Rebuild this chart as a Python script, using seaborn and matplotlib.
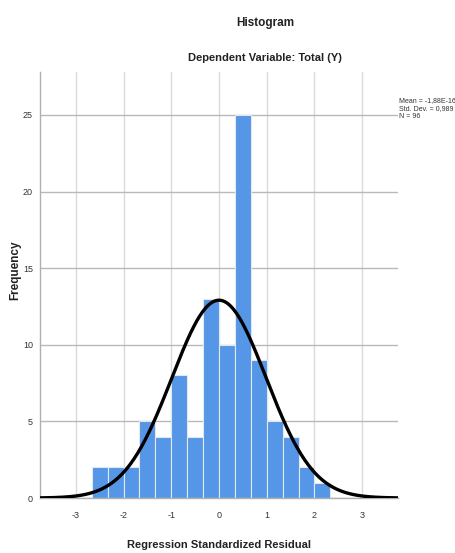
import numpy as np
import pandas as pd
import matplotlib
matplotlib.use("Agg")
import matplotlib.pyplot as plt
import seaborn as sns

# residual histogram (bin width 1/3)
bin_counts = [2, 2, 2, 5, 4, 8, 4, 13, 10, 25, 9, 5, 4, 2, 1]
first_edge = -8 / 3
bin_width = 1 / 3
res_mean = -1.88e-16
res_sd = 0.989
n_obs = 96
x_ticks = [-3, -2, -1, 0, 1, 2, 3]
y_ticks = [0, 5, 10, 15, 20, 25]

edges = first_edge + bin_width * np.arange(len(bin_counts) + 1)
centers = (edges[:-1] + edges[1:]) / 2
df = pd.DataFrame({"resid": centers, "count": bin_counts})

sns.set_theme(style="white")
plt.rcParams["font.family"] = ["Liberation Sans", "DejaVu Sans"]

fig = plt.figure(figsize=(4.55, 5.53), dpi=100)
ax = fig.add_axes([40 / 455, 1 - 498 / 553, 358 / 455, 426 / 553])

sns.histplot(data=df, x="resid", weights="count", bins=list(edges), ax=ax,
             color="#5596E6", alpha=1, edgecolor="#dfe8f4", linewidth=0.8,
             zorder=2)

# normal curve scaled to counts
xs = np.linspace(-3.75, 3.75, 400)
ys = n_obs * bin_width / (res_sd * np.sqrt(2 * np.pi)) * np.exp(-0.5 * ((xs - res_mean) / res_sd) ** 2)
ax.plot(xs, ys, color="black", lw=2.4, zorder=3)

ax.set_xlim(-3.75, 3.75)
ax.set_ylim(0, 27.8)
ax.set_xticks(x_ticks)
ax.set_yticks(y_ticks)
ax.set_xticklabels([str(t) for t in x_ticks], fontsize=6.5, color="#333333")
ax.set_yticklabels([str(t) for t in y_ticks], fontsize=6.5, color="#333333")
ax.tick_params(axis="x", length=0, pad=9)
ax.tick_params(axis="y", length=0, pad=5)
ax.grid(True, axis="x", color="#dadada", lw=1, zorder=0)
ax.grid(True, axis="y", color="#b8b8b8", lw=1, zorder=0)
ax.set_axisbelow(True)
for s in ["top", "right"]:
    ax.spines[s].set_visible(False)
for s in ["left", "bottom"]:
    ax.spines[s].set_color("#b0b0b0")
    ax.spines[s].set_linewidth(1)
ax.set_xlabel("")
ax.set_ylabel("")

fig.text(265 / 455, 1 - 23 / 553, "Histogram", ha="center", va="center",
         fontsize=8.5, fontweight="bold", color="#222222")
fig.text(265 / 455, 1 - 58 / 553, "Dependent Variable: Total (Y)", ha="center",
         va="center", fontsize=8, fontweight="bold", color="#222222")
fig.text(219 / 455, 1 - 545 / 553, "Regression Standardized Residual",
         ha="center", va="center", fontsize=8, fontweight="bold", color="#222222")
fig.text(15 / 455, 1 - 270 / 553, "Frequency", ha="center", va="center",
         rotation=90, fontsize=8.5, fontweight="bold", color="#222222")

stats = "Mean = -1,88E-16\nStd. Dev. = 0,989\nN = 96"
fig.text(399 / 455, 1 - 97 / 553, stats, ha="left", va="top", fontsize=5,
         color="#333333", linespacing=1.2)

fig.savefig("out.png", dpi=100)
